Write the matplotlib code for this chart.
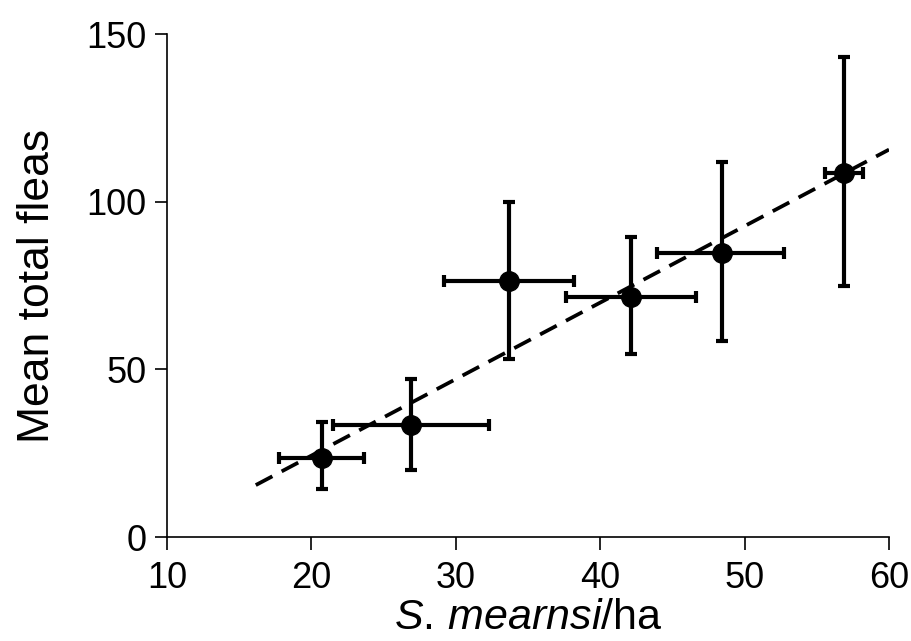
import matplotlib
matplotlib.use('Agg')
import matplotlib.pyplot as plt

plt.rcParams['font.family'] = ['Liberation Sans', 'DejaVu Sans']
plt.rcParams['mathtext.fontset'] = 'custom'
plt.rcParams['mathtext.rm'] = 'Liberation Sans'
plt.rcParams['mathtext.it'] = 'Liberation Sans:italic'

# data
density = [20.7, 26.9, 33.7, 42.15, 48.4, 56.9]
density_lo = [17.75, 21.5, 29.15, 37.6, 43.9, 55.6]
density_hi = [23.65, 32.3, 38.2, 46.6, 52.7, 58.2]
fleas = [23.7, 33.5, 76.3, 71.6, 84.8, 108.6]
fleas_lo = [14.3, 19.9, 53.1, 54.7, 58.6, 74.8]
fleas_hi = [34.4, 47.2, 99.9, 89.5, 111.8, 143.1]
fit_x = [16.15, 60]
fit_y = [15.5, 115.6]

xerr = [[d - lo for d, lo in zip(density, density_lo)],
        [hi - d for d, hi in zip(density, density_hi)]]
yerr = [[f - lo for f, lo in zip(fleas, fleas_lo)],
        [hi - f for f, hi in zip(fleas, fleas_hi)]]

fig = plt.figure(figsize=(9.12, 6.41), dpi=100)
ax = fig.add_axes([0.1831, 0.1622, 0.7917, 0.7843])

ax.plot(fit_x, fit_y, color='black', lw=2.7, linestyle=(0, (5, 2.8)), zorder=1)
ax.errorbar(density, fleas, xerr=xerr, yerr=yerr, fmt='o', color='black',
            ms=14, elinewidth=3, capsize=4.5, capthick=3, zorder=2)

ax.set_xlim(10, 60)
ax.set_ylim(0, 150)
ax.set_xticks([10, 20, 30, 40, 50, 60])
ax.set_yticks([0, 50, 100, 150])
ax.spines['top'].set_visible(False)
ax.spines['right'].set_visible(False)
for s in ['left', 'bottom']:
    ax.spines[s].set_linewidth(1.2)
ax.tick_params(labelsize=26, length=9, width=1.2, pad=6)
ax.tick_params(axis='x', pad=8)

ax.set_xlabel('$\\mathit{S.\\,mearnsi}$/ha', fontsize=31, labelpad=2)
ax.set_ylabel('Mean total fleas', fontsize=32, labelpad=20)

fig.savefig('out.png', dpi=100)
